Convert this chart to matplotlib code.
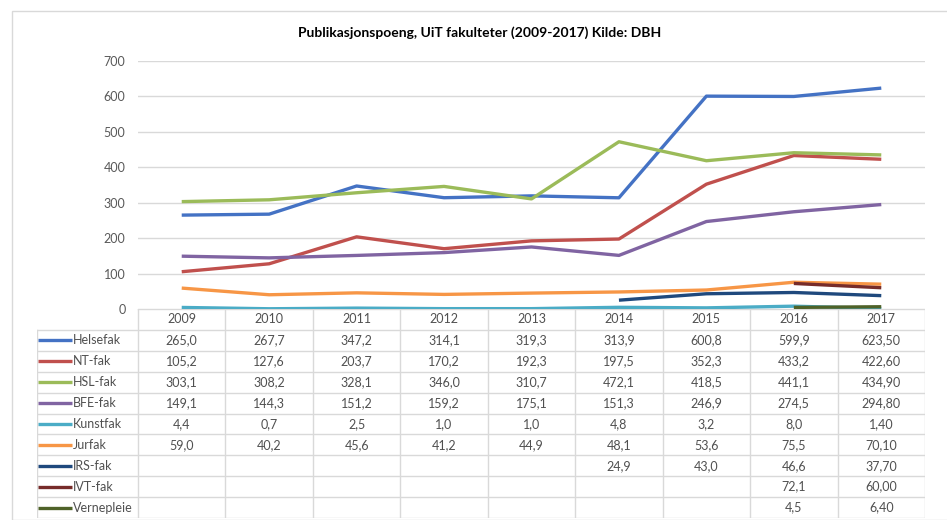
import numpy as np
import matplotlib.pyplot as plt
from matplotlib.patches import Rectangle

plt.rcParams['font.family'] = ['Lato', 'DejaVu Sans']

# ---- data ----
years = ['2009', '2010', '2011', '2012', '2013', '2014', '2015', '2016', '2017']
nan = np.nan
helsefak = [265.0, 267.7, 347.2, 314.1, 319.3, 313.9, 600.8, 599.9, 623.50]
nt_fak = [105.2, 127.6, 203.7, 170.2, 192.3, 197.5, 352.3, 433.2, 422.60]
hsl_fak = [303.1, 308.2, 328.1, 346.0, 310.7, 472.1, 418.5, 441.1, 434.90]
bfe_fak = [149.1, 144.3, 151.2, 159.2, 175.1, 151.3, 246.9, 274.5, 294.80]
kunstfak = [4.4, 0.7, 2.5, 1.0, 1.0, 4.8, 3.2, 8.0, 1.40]
jurfak = [59.0, 40.2, 45.6, 41.2, 44.9, 48.1, 53.6, 75.5, 70.10]
irs_fak = [nan, nan, nan, nan, nan, 24.9, 43.0, 46.6, 37.70]
ivt_fak = [nan, nan, nan, nan, nan, nan, nan, 72.1, 60.00]
vernepleie = [nan, nan, nan, nan, nan, nan, nan, 4.5, 6.40]

# row labels / display strings for the table
names = ['Helsefak', 'NT-fak', 'HSL-fak', 'BFE-fak', 'Kunstfak', 'Jurfak',
         'IRS-fak', 'IVT-fak', 'Vernepleie']
series = [helsefak, nt_fak, hsl_fak, bfe_fak, kunstfak, jurfak, irs_fak, ivt_fak, vernepleie]
colors = ['#4472C4', '#C0504D', '#9BBB59', '#8064A2', '#4BACC6', '#F79646',
          '#1F497D', '#772C2A', '#4F6228']
two_dec_year = '2017'  # last column is shown with two decimals in the source


def fmt(v, yr):
    if np.isnan(v):
        return ''
    s = f"{v:.2f}" if yr == two_dec_year else f"{v:.1f}"
    return s.replace('.', ',')


W, H = 947, 520
fig = plt.figure(figsize=(W / 100, H / 100), dpi=100)

# chart frame
fig.patches.append(Rectangle((12 / W, 0), 1, 1 - 11 / H, transform=fig.transFigure,
                             fill=False, edgecolor='#D9D9D9', lw=1))

fig.text(480 / W, 1 - 33 / H, 'Publikasjonspoeng, UiT fakulteter (2009-2017) Kilde: DBH',
         ha='center', va='center', fontsize=10, fontweight='bold', color='black')

# ---- plot area ----
x0, x1 = 138, 925
y_top, y_zero = 61, 309
ax = fig.add_axes([x0 / W, 1 - y_zero / H, (x1 - x0) / W, (y_zero - y_top) / H])
xs = np.arange(len(years))
for s, c in zip(series, colors):
    ax.plot(xs, s, color=c, lw=2.4, solid_capstyle='butt', zorder=3)
ax.set_xlim(-0.5, len(years) - 0.5)
ax.set_ylim(0, 700)
ax.set_yticks(range(0, 701, 100))
ax.yaxis.grid(True, color='#D9D9D9', lw=1)
ax.set_axisbelow(True)
ax.tick_params(axis='y', length=0, labelsize=9, labelcolor='#595959', pad=9)
ax.set_xticks([])
for sp in ax.spines.values():
    sp.set_visible(False)

# ---- data table ----
tx0, ty_bot = 37, 518
tab = fig.add_axes([tx0 / W, 1 - ty_bot / H, (x1 - tx0) / W, (ty_bot - y_zero) / H])
n_rows = len(names) + 1
lab_w = (x0 - tx0) / ((x1 - x0) / len(years))  # label column width in year units
tab.set_xlim(-lab_w, len(years))
tab.set_ylim(n_rows, 0)
tab.axis('off')
gc = '#D9D9D9'
# horizontal lines
tab.plot([0, len(years)], [0, 0], color=gc, lw=1)
for r in range(1, n_rows + 1):
    tab.plot([-lab_w, len(years)], [r, r], color=gc, lw=1)
# vertical lines
tab.plot([-lab_w, -lab_w], [1, n_rows], color=gc, lw=1)
for c in range(len(years) + 1):
    tab.plot([c, c], [0, n_rows], color=gc, lw=1)

tc = '#505050'
for j, yr in enumerate(years):
    tab.text(j + 0.5, 0.5, yr, ha='center', va='center', fontsize=9, color=tc)
for i, (nm, s, c) in enumerate(zip(names, series, colors)):
    r = i + 1.5
    tab.plot([-lab_w + 0.01, -lab_w + 0.4], [r, r], color=c, lw=2.4, solid_capstyle='butt')
    tab.text(-lab_w + 0.41, r, nm, ha='left', va='center', fontsize=9, color=tc)
    for j, yr in enumerate(years):
        tab.text(j + 0.5, r, fmt(s[j], yr), ha='center', va='center', fontsize=9, color=tc)

fig.savefig('out.png', dpi=100)
